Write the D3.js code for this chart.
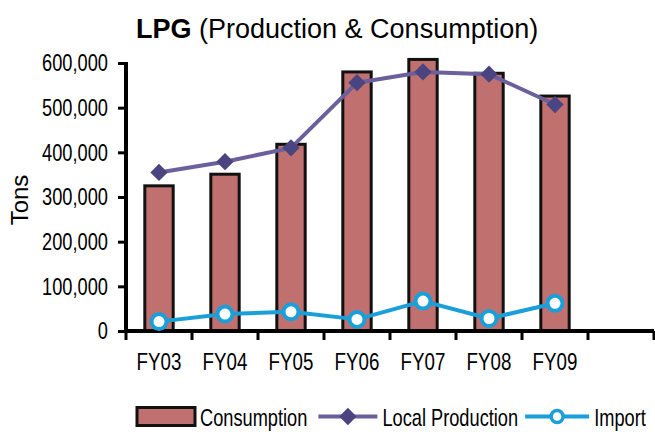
<!DOCTYPE html>
<html>
<head>
<meta charset="utf-8">
<script src="https://cdn.jsdelivr.net/npm/d3@7"></script>
<style>
  html, body { margin: 0; padding: 0; background: #ffffff; }
  svg { display: block; }
</style>
</head>
<body>
<div id="chart"></div>
<script>
// ---- data ----
const categories = ["FY03", "FY04", "FY05", "FY06", "FY07", "FY08", "FY09"];
const consumption = [325000, 351000, 418000, 580000, 608000, 577000, 526000];
const localProduction = [355000, 379000, 410000, 556000, 580000, 575000, 507000];
const importVals = [21000, 38000, 43000, 26000, 67000, 28000, 62000];
const yTicks = [0, 100000, 200000, 300000, 400000, 500000, 600000];
const seriesNames = ["Consumption", "Local Production", "Import"];
const titleBold = "LPG";
const titleRest = "(Production & Consumption)";
const yTitle = "Tons";

// ---- layout ----
const W = 655, H = 432;
const plot = { left: 126, right: 654, top: 63, bottom: 331 };
const font = "'Liberation Sans', Arial, sans-serif";
const colors = {
  bar: "#c0706f",
  barStroke: "#111111",
  prod: "#6b5f9c",
  prodMarker: "#4a4580",
  imp: "#1b9fd9"
};

// condense text horizontally (reference uses a narrow face)
function condense(sel, factor) {
  sel.each(function () {
    const len = this.getComputedTextLength();
    d3.select(this)
      .attr("textLength", len * factor)
      .attr("lengthAdjust", "spacingAndGlyphs");
  });
}

const svg = d3.select("#chart").append("svg")
  .attr("width", W).attr("height", H);

// scales: one extra empty slot after the last category
const x = d3.scaleBand()
  .domain([...categories, "__empty__"])
  .range([plot.left, plot.right])
  .padding(0);
const y = d3.scaleLinear()
  .domain([0, 600000])
  .range([plot.bottom, plot.top]);

const bw = x.bandwidth();
const cx = c => x(c) + bw / 2;

// ---- bars ----
const barW = bw * 0.43;
svg.append("g").selectAll("rect")
  .data(categories.map((c, i) => ({ c, v: consumption[i] })))
  .join("rect")
  .attr("x", d => cx(d.c) - barW / 2)
  .attr("y", d => y(d.v))
  .attr("width", barW)
  .attr("height", d => y(0) - y(d.v))
  .attr("fill", colors.bar)
  .attr("stroke", colors.barStroke)
  .attr("stroke-width", 3);

// ---- y axis ----
const yAxis = d3.axisLeft(y)
  .tickValues(yTicks)
  .tickFormat(d3.format(","))
  .tickSize(8)
  .tickPadding(10);
const gy = svg.append("g")
  .attr("transform", `translate(${plot.left},0)`)
  .call(yAxis);
gy.select(".domain").remove();
gy.selectAll(".tick line").attr("stroke", "#000").attr("stroke-width", 3);
gy.selectAll(".tick text")
  .attr("fill", "#000")
  .style("font-family", font)
  .style("font-size", "24px")
  .call(condense, 0.76);
svg.append("line")
  .attr("x1", plot.left).attr("x2", plot.left)
  .attr("y1", y(600000) - 1).attr("y2", y(0) + 2)
  .attr("stroke", "#000").attr("stroke-width", 4);

// ---- x axis ----
const boundaries = [...x.domain().map(d => x(d)), plot.right];
svg.append("g").selectAll("line")
  .data(boundaries)
  .join("line")
  .attr("x1", d => d).attr("x2", d => d)
  .attr("y1", y(0)).attr("y2", y(0) + 9)
  .attr("stroke", "#000").attr("stroke-width", 3);
svg.append("line")
  .attr("x1", plot.left - 2).attr("x2", plot.right)
  .attr("y1", y(0)).attr("y2", y(0))
  .attr("stroke", "#000").attr("stroke-width", 4);
svg.append("g").selectAll("text")
  .data(categories)
  .join("text")
  .attr("x", d => cx(d))
  .attr("y", y(0) + 39)
  .attr("text-anchor", "middle")
  .style("font-family", font)
  .style("font-size", "24px")
  .attr("fill", "#000")
  .text(d => d)
  .call(condense, 0.78);

// ---- lines ----
const line = d3.line().x(d => cx(d.c)).y(d => y(d.v));
const prodData = categories.map((c, i) => ({ c, v: localProduction[i] }));
const impData = categories.map((c, i) => ({ c, v: importVals[i] }));

svg.append("path")
  .datum(prodData)
  .attr("d", line)
  .attr("fill", "none")
  .attr("stroke", colors.prod)
  .attr("stroke-width", 4)
  .attr("stroke-linejoin", "round");
const diamond = d3.symbol().type(d3.symbolSquare).size(150);
svg.append("g").selectAll("path")
  .data(prodData)
  .join("path")
  .attr("d", diamond)
  .attr("transform", d => `translate(${cx(d.c)},${y(d.v)}) rotate(45)`)
  .attr("fill", colors.prodMarker);

svg.append("path")
  .datum(impData)
  .attr("d", line)
  .attr("fill", "none")
  .attr("stroke", colors.imp)
  .attr("stroke-width", 4)
  .attr("stroke-linejoin", "round");
svg.append("g").selectAll("circle")
  .data(impData)
  .join("circle")
  .attr("cx", d => cx(d.c))
  .attr("cy", d => y(d.v))
  .attr("r", 7.5)
  .attr("fill", "#fff")
  .attr("stroke", colors.imp)
  .attr("stroke-width", 4);

// ---- title ----
const title = svg.append("text")
  .attr("x", 136).attr("y", 38)
  .style("font-family", font)
  .style("font-size", "27px")
  .attr("fill", "#000");
title.append("tspan").attr("font-weight", "bold").text(titleBold);
title.append("tspan").text(" " + titleRest);

// ---- y title ----
svg.append("text")
  .attr("transform", "translate(28,200) rotate(-90)")
  .attr("text-anchor", "middle")
  .style("font-family", font)
  .style("font-size", "24px")
  .attr("fill", "#000")
  .text(yTitle);

// ---- legend ----
const lg = svg.append("g");
const ly = 416.5;
const sx = 0.76;
let lx = 137;
lg.append("rect")
  .attr("x", lx).attr("y", ly - 9).attr("width", 58).attr("height", 18)
  .attr("fill", colors.bar).attr("stroke", colors.barStroke).attr("stroke-width", 3);
lx += 63;
function legendText(str) {
  const g = lg.append("g")
    .attr("transform", `translate(${lx},${ly + 9}) scale(${sx},1)`);
  const t = g.append("text")
    .attr("x", 0).attr("y", 0)
    .style("font-family", font)
    .style("font-size", "24px")
    .attr("fill", "#000")
    .text(str);
  lx += t.node().getComputedTextLength() * sx;
}
legendText(seriesNames[0]);
lx += 11;
lg.append("line").attr("x1", lx).attr("x2", lx + 59).attr("y1", ly).attr("y2", ly)
  .attr("stroke", colors.prod).attr("stroke-width", 4);
lg.append("path").attr("d", diamond)
  .attr("transform", `translate(${lx + 29.5},${ly}) rotate(45)`)
  .attr("fill", colors.prodMarker);
lx += 64;
legendText(seriesNames[1]);
lx += 7;
lg.append("line").attr("x1", lx).attr("x2", lx + 64).attr("y1", ly).attr("y2", ly)
  .attr("stroke", colors.imp).attr("stroke-width", 4);
lg.append("circle").attr("cx", lx + 32).attr("cy", ly).attr("r", 6)
  .attr("fill", "#fff").attr("stroke", colors.imp).attr("stroke-width", 3.5);
lx += 69;
legendText(seriesNames[2]);
</script>
</body>
</html>
